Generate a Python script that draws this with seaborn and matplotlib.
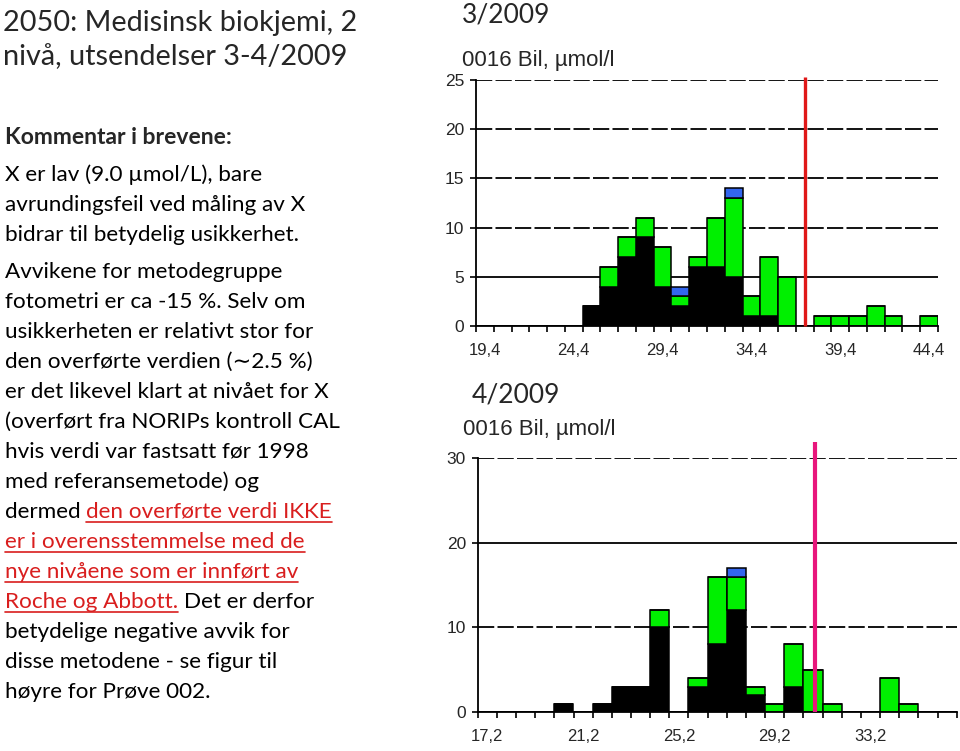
import numpy as np
import pandas as pd
import matplotlib
matplotlib.use("Agg")
import matplotlib.pyplot as plt
from matplotlib.lines import Line2D
import seaborn as sns

# --- data: counts per bin, 3/2009 (bin width 1.0, centres 19.4 .. 44.4)
mar_centers = np.round(19.4 + np.arange(26) * 1.0, 1)
mar_black = [0, 0, 0, 0, 0, 0, 2, 4, 7, 9, 4, 2, 6, 6, 5, 1, 1, 0, 0, 0, 0, 0, 0, 0, 0, 0]
mar_green = [0, 0, 0, 0, 0, 0, 0, 2, 2, 2, 4, 1, 1, 5, 8, 2, 6, 5, 0, 1, 1, 1, 2, 1, 0, 1]
mar_blue = [0, 0, 0, 0, 0, 0, 0, 0, 0, 0, 0, 1, 0, 0, 1, 0, 0, 0, 0, 0, 0, 0, 0, 0, 0, 0]
mar_labels = ["19,4", "24,4", "29,4", "34,4", "39,4", "44,4"]
mar_target = 37.4

# --- data: counts per bin, 4/2009 (bin width 0.8, centres 17.2 .. 36.4)
apr_centers = np.round(17.2 + np.arange(25) * 0.8, 1)
apr_black = [0, 0, 0, 0, 1, 0, 1, 3, 3, 10, 0, 3, 8, 12, 2, 0, 3, 0, 0, 0, 0, 0, 0, 0, 0]
apr_green = [0, 0, 0, 0, 0, 0, 0, 0, 0, 2, 0, 1, 8, 4, 1, 1, 5, 5, 1, 0, 0, 4, 1, 0, 0]
apr_blue = [0, 0, 0, 0, 0, 0, 0, 0, 0, 0, 0, 0, 0, 1, 0, 0, 0, 0, 0, 0, 0, 0, 0, 0, 0]
apr_labels = ["17,2", "21,2", "25,2", "29,2", "33,2"]
apr_target = 30.9

palette = {"svart": "black", "grønn": "#00f000", "blå": "#3366ee"}

W, H = 960, 751
sns.set_style("ticks")
fig = plt.figure(figsize=(W / 100, H / 100), dpi=100)
renderer = fig.canvas.get_renderer()


def fx(x):
    return x / W


def fy(y):
    return 1 - y / H


def long_df(centers, black, green, blue):
    rows = []
    for name, counts in (("svart", black), ("grønn", green), ("blå", blue)):
        for c, n in zip(centers, counts):
            if n > 0:
                rows.append({"x": c, "n": n, "grp": name})
    return pd.DataFrame(rows)


def draw_hist(rect, centers, black, green, blue, width, labels, step, ymax,
              solid_at, target, tcolor, ttop, tlw):
    ax = fig.add_axes(rect)
    edges = [round(float(centers[0]) - width / 2 + i * width, 2) for i in range(len(centers) + 1)]
    df = long_df(centers, black, green, blue)
    sns.histplot(data=df, x="x", weights="n", hue="grp",
                 hue_order=["blå", "grønn", "svart"], palette=palette,
                 multiple="stack", bins=edges, alpha=1, edgecolor="black",
                 linewidth=1.1, legend=False, ax=ax)
    ax.set(xlabel="", ylabel="")
    ax.set_xlim(edges[0], edges[-1])
    ax.set_ylim(0, ymax)
    yt = list(range(0, ymax + 1, step))
    for v in yt[1:]:
        ax.axhline(v, color="black", lw=1.3, zorder=0,
                   ls="-" if v == solid_at else (0, (9, 1.8)))
    ax.set_yticks(yt)
    ax.set_xticks([float(s.replace(",", ".")) for s in labels])
    ax.set_xticklabels(labels)
    ax.set_xticks(edges, minor=True)
    ax.tick_params(axis="x", which="major", length=0, pad=12, labelsize=12)
    ax.tick_params(axis="x", which="minor", length=4.5, width=1.2, color="black")
    ax.tick_params(axis="y", length=4.5, width=1.2, pad=4, labelsize=12.5, color="black")
    for lab in ax.get_xticklabels() + ax.get_yticklabels():
        lab.set_family("Liberation Sans")
    sns.despine(ax=ax)
    for s in ("left", "bottom"):
        ax.spines[s].set_color("black")
        ax.spines[s].set_linewidth(1.3)
    ax.plot([target, target], [0, ttop], color=tcolor, lw=tlw,
            clip_on=False, solid_capstyle="butt", zorder=5)
    return ax


draw_hist([fx(476), fy(326), 462 / W, 246 / H], mar_centers, mar_black, mar_green,
          mar_blue, 1.0, mar_labels, 5, 25, 5, mar_target, "#e01818", 25.3, 2.4)
draw_hist([fx(477.7), fy(712.3), 479 / W, 254.6 / H], apr_centers, apr_black, apr_green,
          apr_blue, 0.8, apr_labels, 10, 30, 20, apr_target, "#e8167c", 31.9, 3.0)

# --- chart headings
fig.text(fx(462), fy(23), "3/2009", family="Lato", fontsize=19, va="baseline")
fig.text(fx(472), fy(403), "4/2009", family="Lato", fontsize=19, va="baseline")
fig.text(fx(462), fy(66), "0016 Bil, µmol/l", family="Liberation Sans", fontsize=16, va="baseline")
fig.text(fx(463), fy(435), "0016 Bil, µmol/l", family="Liberation Sans", fontsize=16, va="baseline")

# --- slide text
font = ["Lato", "DejaVu Sans"]
red = "#d91e1e"
fig.text(fx(3), fy(31), "2050: Medisinsk biokjemi, 2", family=font, fontsize=20.8, va="baseline")
fig.text(fx(3), fy(65), "nivå, utsendelser 3-4/2009", family=font, fontsize=20.8, va="baseline")
fig.text(fx(5), fy(144), "Kommentar i brevene:", family=font, fontsize=16.5,
         weight="bold", va="baseline")

body = [
    (181, [("X er lav (9.0 µmol/L), bare", False)]),
    (211, [("avrundingsfeil ved måling av X", False)]),
    (241, [("bidrar til betydelig usikkerhet.", False)]),
    (278, [("Avvikene for metodegruppe", False)]),
    (308, [("fotometri er ca -15 %. Selv om", False)]),
    (338, [("usikkerheten er relativt stor for", False)]),
    (368, [("den overførte verdien (∼2.5 %)", False)]),
    (398, [("er det likevel klart at nivået for X", False)]),
    (428, [("(overført fra NORIPs kontroll CAL", False)]),
    (458, [("hvis verdi var fastsatt før 1998", False)]),
    (488, [("med referansemetode) og", False)]),
    (518, [("dermed", False), ("den overførte verdi IKKE", True)]),
    (548, [("er i overensstemmelse med de", True)]),
    (578, [("nye nivåene som er innført av", True)]),
    (608, [("Roche og Abbott.", True), ("Det er derfor", False)]),
    (638, [("betydelige negative avvik for", False)]),
    (668, [("disse metodene - se figur til", False)]),
    (698, [("høyre for Prøve 002.", False)]),
]
bsize = 16.2


def width_of(s):
    t = fig.text(0, 0, s, family=font, fontsize=bsize)
    w = t.get_window_extent(renderer).width
    t.remove()
    return w


gap = width_of("x x") - width_of("xx")
for y, parts in body:
    x = 5
    for txt, under in parts:
        t = fig.text(fx(x), fy(y), txt, family=font, fontsize=bsize, va="baseline",
                     color=red if under else "black")
        w = t.get_window_extent(renderer).width
        if under:
            fig.add_artist(Line2D([fx(x), fx(x + w)], [fy(y + 4), fy(y + 4)],
                                  color=red, lw=1.2))
        x += w + gap

fig.savefig("out.png", dpi=100)
